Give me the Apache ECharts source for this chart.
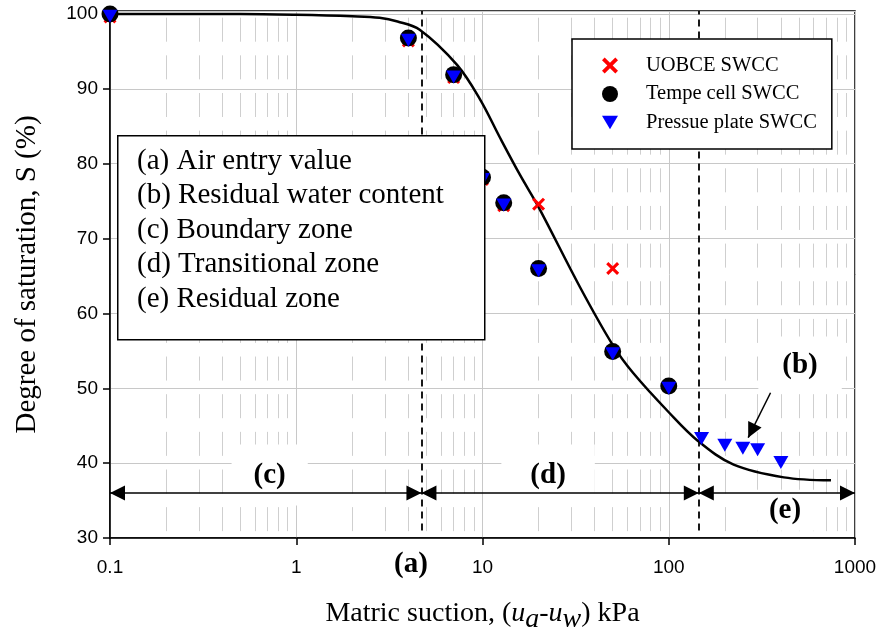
<!DOCTYPE html>
<html>
<head>
<meta charset="utf-8">
<script src="https://cdn.jsdelivr.net/npm/echarts@6/dist/echarts.min.js"></script>
<style>
html, body { margin: 0; padding: 0; background: #fff; }
#chart { width: 882px; height: 639px; }
</style>
</head>
<body>
<div id="chart"></div>
<script>
// UOBCE SWCC (red crosses)
const uobceSuction = [0.1, 4, 7, 10, 13, 20, 50]
const uobceSat = [99.6, 96.4, 91.5, 77.9, 74.4, 74.6, 66.0]
// Tempe cell SWCC (black dots)
const tempeSuction = [0.1, 4, 7, 10, 13, 20, 50, 100]
const tempeSat = [100, 96.8, 91.9, 78.2, 74.8, 66.0, 54.9, 50.3]
// Pressure plate SWCC (blue triangles)
const plateSuction = [0.1, 4, 7, 10, 13, 20, 50, 100, 150, 200, 250, 300, 400]
const plateSat = [99.7, 96.5, 91.6, 77.9, 74.5, 65.7, 54.6, 50.0, 43.3, 42.4, 42.0, 41.8, 40.1]
// fitted SWCC curve
const fitSuction = [0.1, 0.5, 1, 2, 2.8, 3.5, 4.6, 7.3, 9.7, 12.4, 15.9, 20, 33.4, 50, 64.6, 100, 143, 223, 415, 743]
const fitSat = [100, 100, 99.9, 99.7, 99.5, 99.0, 97.9, 93.2, 88.6, 83.5, 78.5, 74.2, 63.5, 55.8, 52.0, 46.8, 43.0, 39.8, 38.1, 37.7]
// zone limits: start, air entry value, residual suction, end
const zoneBounds = [0.1, 4.7, 145, 1000]
const arrowLevel = 36
// (b) pointer arrow
const pointerFrom = [352, 49.4]
const pointerTo = [267, 43.4]
// annotation labels
const annoText = ['(c)', '(d)', '(e)', '(b)', '(a)']
const annoX = [0.72, 22.5, 421, 507, 4.13]
const annoY = [38.4, 38.4, 33.7, 53.1, 30]
const boxLines = ['(a) Air entry value', '(b) Residual water content', '(c) Boundary zone', '(d) Transitional zone', '(e) Residual zone']
const legendNames = ['UOBCE SWCC', 'Tempe cell SWCC', 'Pressue plate SWCC']

const minorTicks = []
for (const d of [0.1, 1, 10, 100]) {
  for (let m = 2; m <= 9; m++) minorTicks.push(+(d * m).toPrecision(3))
}

const zip = (xs, ys) => xs.map((x, i) => [x, ys[i]])
const serif = '"Liberation Serif", "Times New Roman", serif'
const sans = '"Liberation Sans", Arial, sans-serif'
const crossPath = 'path://M0,2L2,0L6,4L10,0L12,2L8,6L12,10L10,12L6,8L2,12L0,10L4,6Z'
const triPath = 'path://M0,0L14,0L7,12Z'
// label boxes (white, to hide grid behind)
const annoPad = [[16, 22], [16, 29], [6, 18], [14, 24], [0, 0]]
const annoBg = ['#fff', '#fff', '#fff', '#fff', 'transparent']
const annoOffset = [[0, 0], [0, 0], [0, 0], [0, 0], [0, 27]]

const chart = echarts.init(document.getElementById('chart'))
chart.setOption({
  backgroundColor: '#fff',
  animation: false,
  grid: {
    left: 110,
    right: 27,
    top: 11,
    bottom: 98,
    show: true,
    borderColor: '#000',
    borderWidth: 1.5
  },
  legend: {
    data: legendNames,
    orient: 'vertical',
    left: 572,
    top: 39,
    z: 20,
    selectedMode: false,
    padding: [16, 15, 16, 30],
    itemGap: 7.5,
    itemWidth: 16,
    itemHeight: 16,
    backgroundColor: '#fff',
    borderColor: '#000',
    borderWidth: 1.5,
    textStyle: {
      fontFamily: serif,
      fontSize: 20.5,
      color: '#000',
      lineHeight: 20,
      padding: [0, 0, 0, 23]
    }
  },
  xAxis: {
    type: 'log',
    logBase: 10,
    min: 0.1,
    max: 1000,
    name: 'Matric suction, ({i|u}{s|a}-{i|u}{s|w}) kPa',
    nameLocation: 'middle',
    nameGap: 56,
    nameTextStyle: {
      fontFamily: serif,
      fontSize: 28,
      color: '#000',
      rich: {
        i: { fontFamily: serif, fontSize: 28, fontStyle: 'italic', color: '#000' },
        s: { fontFamily: serif, fontSize: 28, fontStyle: 'italic', color: '#000', padding: [12, 0, 0, 0] }
      }
    },
    axisLine: { lineStyle: { color: '#000', width: 1.5 } },
    axisTick: { show: true, length: 7, lineStyle: { color: '#000', width: 1.5 } },
    axisLabel: {
      fontFamily: sans,
      fontSize: 19,
      color: '#000',
      margin: 20,
      formatter: v => String(+v.toPrecision(3))
    },
    splitLine: { show: true, lineStyle: { color: '#c8c8c8', width: 1 } }
  },
  yAxis: {
    type: 'value',
    min: 30,
    max: 100.4,
    interval: 10,
    name: 'Degree of saturation, S (%)',
    nameLocation: 'middle',
    nameGap: 68,
    nameTextStyle: { fontFamily: serif, fontSize: 29, color: '#000' },
    axisLine: { show: true, lineStyle: { color: '#000', width: 1.5 } },
    axisTick: { show: true, length: 7, lineStyle: { color: '#000', width: 1.5 } },
    axisLabel: {
      fontFamily: sans,
      fontSize: 19,
      color: '#000',
      margin: 12,
      formatter: v => (Math.abs(v % 10) < 1e-6 ? String(v) : '')
    },
    splitLine: { show: true, lineStyle: { color: '#c8c8c8', width: 1 } }
  },
  graphic: [
    {
      type: 'rect',
      left: 117,
      top: 135,
      z: 100,
      shape: { width: 367, height: 204 },
      style: { fill: '#fff', stroke: '#000', lineWidth: 1.5 }
    },
    {
      type: 'text',
      left: 137,
      top: 144,
      z: 101,
      style: {
        text: boxLines.join('\n'),
        fontFamily: serif,
        fontSize: 29,
        lineHeight: 34.5,
        fill: '#000'
      }
    }
  ],
  series: [
    {
      // minor log grid
      name: 'minor',
      type: 'scatter',
      data: [],
      z: 1,
      silent: true,
      markLine: {
        z: 1,
        silent: true,
        symbol: 'none',
        label: { show: false },
        lineStyle: { color: '#cfcfcf', width: 1, type: [24, 13.65], dashOffset: 30.8 },
        data: minorTicks.map(v => [{ coord: [v, 30] }, { coord: [v, 100.4] }])
      }
    },
    {
      name: 'notes',
      type: 'scatter',
      z: 2,
      silent: true,
      symbolSize: 0,
      itemStyle: { opacity: 1 },
      data: annoText.map((t, i) => ({
        value: [annoX[i], annoY[i], t],
        label: {
          backgroundColor: annoBg[i],
          padding: annoPad[i],
          offset: annoOffset[i]
        }
      })),
      label: {
        show: true,
        position: 'inside',
        formatter: p => p.value[2],
        fontFamily: serif,
        fontWeight: 'bold',
        fontSize: 29,
        color: '#000',
        opacity: 1
      }
    },
    {
      name: 'fit',
      type: 'line',
      z: 3,
      data: zip(fitSuction, fitSat),
      showSymbol: false,
      smooth: 0.35,
      lineStyle: { color: '#000', width: 2.5 },
      markLine: {
        z: 3,
        silent: true,
        label: { show: false },
        symbol: 'none',
        data: [
          [
            { coord: [zoneBounds[1], 31], lineStyle: { color: '#000', width: 1.8, type: [7, 5] } },
            { coord: [zoneBounds[1], 100.4] }
          ],
          [
            { coord: [zoneBounds[2], 31], lineStyle: { color: '#000', width: 1.8, type: [7, 5] } },
            { coord: [zoneBounds[2], 100.4] }
          ]
        ]
      }
    },
    {
      name: 'arrows',
      type: 'scatter',
      data: [],
      z: 3,
      silent: true,
      markLine: {
        z: 3,
        silent: true,
        label: { show: false },
        symbol: ['triangle', 'triangle'],
        symbolSize: 15,
        symbolOffset: [[0, 7.5], [0, 7.5]],
        lineStyle: { color: '#000', width: 1.5, type: 'solid' },
        itemStyle: { color: '#000' },
        data: [
          [{ coord: [zoneBounds[0], arrowLevel] }, { coord: [zoneBounds[1], arrowLevel] }],
          [{ coord: [zoneBounds[1], arrowLevel] }, { coord: [zoneBounds[2], arrowLevel] }],
          [{ coord: [zoneBounds[2], arrowLevel] }, { coord: [zoneBounds[3], arrowLevel] }],
          [{ coord: pointerFrom, symbol: 'none' }, { coord: pointerTo, symbol: 'triangle' }]
        ]
      }
    },
    {
      name: legendNames[0],
      type: 'scatter',
      z: 4,
      data: zip(uobceSuction, uobceSat),
      symbol: crossPath,
      symbolSize: 13,
      itemStyle: { color: '#ff0000', opacity: 1 }
    },
    {
      name: legendNames[1],
      type: 'scatter',
      z: 5,
      data: zip(tempeSuction, tempeSat),
      symbol: 'circle',
      symbolSize: 17,
      itemStyle: { color: '#000', opacity: 1 }
    },
    {
      name: legendNames[2],
      type: 'scatter',
      z: 6,
      data: zip(plateSuction, plateSat),
      symbol: triPath,
      symbolSize: [15, 13],
      itemStyle: { color: '#0000ff', opacity: 1 }
    }
  ]
})
</script>
</body>
</html>
